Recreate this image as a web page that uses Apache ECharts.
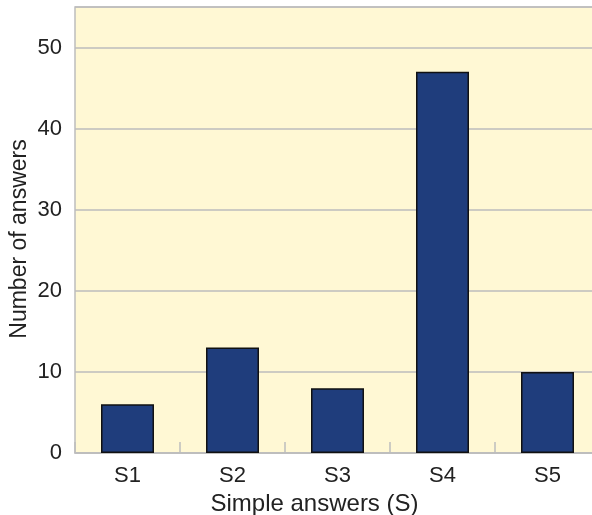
<!DOCTYPE html>
<html>
<head>
<meta charset="utf-8">
<script src="https://cdn.jsdelivr.net/npm/echarts@6/dist/echarts.min.js"></script>
<style>
  html, body { margin: 0; padding: 0; background: #ffffff; }
  #chart { width: 592px; height: 515px; }
</style>
</head>
<body>
<div id="chart"></div>
<script>
// Answer counts per simple-answer category
const categories = ['S1', 'S2', 'S3', 'S4', 'S5'];
const answerCounts = [6, 13, 8, 47, 10];
const yTitle = 'Number of answers';
const xTitle = 'Simple answers (S)';

const chart = echarts.init(document.getElementById('chart'), null, { renderer: 'canvas' });

const textColor = '#222222';
const fontFamily = 'Liberation Sans, Arial, sans-serif';

chart.setOption({
  animation: false,
  backgroundColor: '#ffffff',
  grid: {
    left: 75,
    top: 7,
    width: 525,
    height: 446,
    outerBoundsMode: 'none',
    containLabel: false,
    show: true,
    backgroundColor: '#fff8d4',
    borderColor: '#bdbdbd',
    borderWidth: 1.5
  },
  // vertical axis title, placed by hand to the left of the tick labels
  graphic: [{
    type: 'text',
    x: 20,
    y: 239,
    rotation: Math.PI / 2,
    style: {
      text: yTitle,
      fill: textColor,
      font: '23px ' + fontFamily,
      align: 'center',
      verticalAlign: 'middle'
    }
  }],
  xAxis: {
    type: 'category',
    data: categories,
    name: xTitle,
    nameLocation: 'middle',
    nameGap: 38,
    nameTextStyle: { color: textColor, fontSize: 24, fontFamily, padding: [0, 46, 0, 0] },
    axisLine: { show: true, lineStyle: { color: '#bdbdbd', width: 1.5 } },
    axisTick: { show: true, inside: true, length: 11, lineStyle: { color: '#bdbdbd', width: 1.5 } },
    axisLabel: { color: textColor, fontSize: 22, fontFamily, margin: 12 },
    splitLine: { show: false }
  },
  yAxis: {
    type: 'value',
    min: 0,
    max: 55,
    interval: 10,
    axisLine: { show: false },
    axisTick: { show: false },
    axisLabel: {
      color: textColor, fontSize: 22, fontFamily, margin: 13,
      formatter: v => (v % 10 === 0 ? String(v) : '')
    },
    splitLine: { show: true, lineStyle: { color: '#bdbdbd', width: 1.5 } }
  },
  series: [{
    type: 'bar',
    data: answerCounts,
    barWidth: 53,
    itemStyle: {
      color: '#1f3d7c',
      borderColor: '#111111',
      borderWidth: 1.5
    }
  }]
});
</script>
</body>
</html>
